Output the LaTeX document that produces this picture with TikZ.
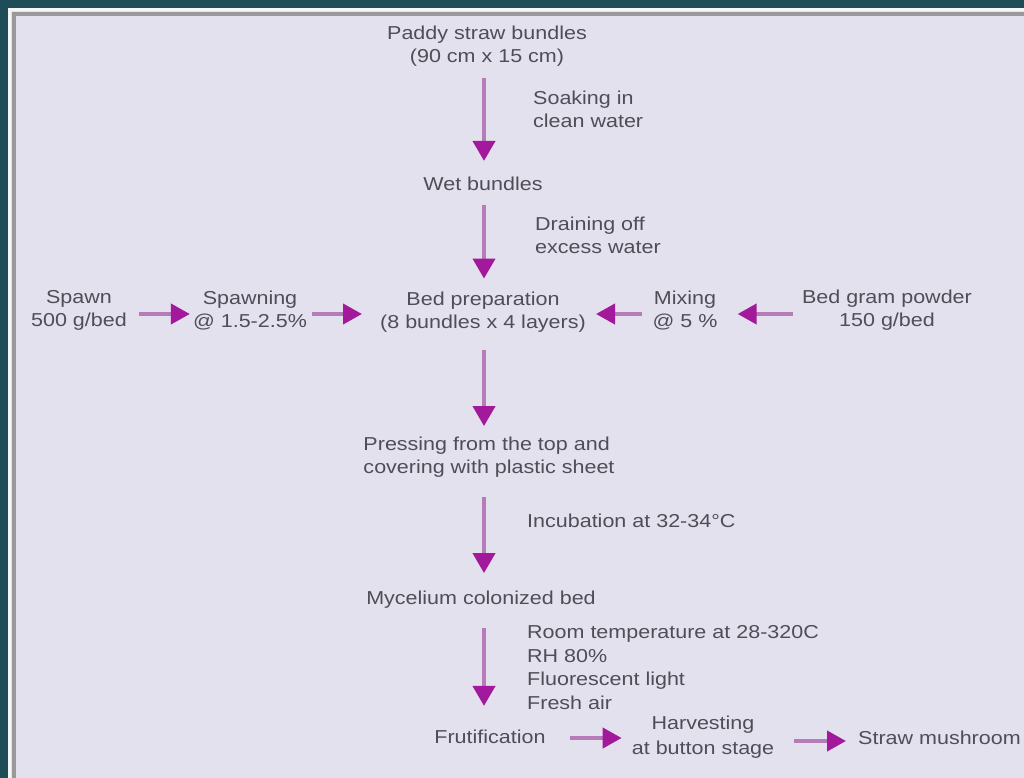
\documentclass[tikz,border=0pt]{standalone}
\usepackage{fontspec}
\setmainfont[FakeStretch=1.15]{Liberation Sans}
\usepackage{tikz}
\usetikzlibrary{arrows.meta,positioning,calc}
\definecolor{frameteal}{HTML}{1E4D57}
\definecolor{panelbg}{HTML}{E3E1EE}
\definecolor{shaftmag}{HTML}{B57CB8}
\definecolor{headmag}{HTML}{A3199B}
\definecolor{txtgray}{HTML}{4E4E56}

\tikzset{
  stage/.style={inner sep=0pt,text=txtgray,align=center,
    font=\fontsize{18.7}{23}\selectfont},
  note/.style={stage,align=left,anchor=west},
  flow/.style={draw=shaftmag,line width=4pt,
    -{Triangle[length=20pt,width=22pt,color=headmag,fill=headmag]}},
  sideflow/.style={flow,-{Triangle[length=19pt,width=20pt,color=headmag,fill=headmag]}}
}

\begin{document}
\begin{tikzpicture}[x=1pt,y=-1pt]
    % Frame and panel
    \fill[frameteal] (0,0) rectangle (1024,778);
    \useasboundingbox (0,0) rectangle (1024,778);
    \fill[white!92!gray] (8,8) rectangle (1024,778);
    \fill[panelbg] (11,11) rectangle (1024,778);
    \draw[gray!80,line width=4pt] (14,778) -- (14,14) -- (1024,14);

    % Main column
    \coordinate (axis) at (484,0);
    \coordinate (midrow) at (0,314);
    \coordinate (lowrow) at (0,738);
    \coordinate (endrow) at (0,741);
    \node[stage] (paddy) at (487,46.5) {Paddy straw bundles\\(90 cm x 15 cm)};
    \node[stage] (wet) at (483,184) {Wet bundles};
    \node[stage] (bed) at (483,312) {Bed preparation\\(8 bundles x 4 layers)};
    \node[stage,align=left] (press) at (489,457.5) {Pressing from the top and\\covering with plastic sheet};
    \node[stage] (mycel) at (481,600) {Mycelium colonized bed};
    \node[stage] (fruti) at (490,737) {Frutification};

    % Side inputs
    \node[stage] (spawn) at (79,310.5) {Spawn\\500 g/bed};
    \node[stage] (spawning) at (250,310.5) {Spawning\\@ 1.5-2.5\%};
    \node[stage] (mixing) at (685,310.5) {Mixing\\@ 5 \%};
    \node[stage] (gram) at (887,310) {Bed gram powder\\150 g/bed};

    % Harvest row
    \node[stage,font=\fontsize{18.7}{25}\selectfont] (harvest) at (703,737.5) {Harvesting\\at button stage};
    \node[stage,anchor=west] (straw) at (858,738) {Straw mushroom};

    % Step notes
    \node[note] (soak) at (533,109.5) {Soaking in\\clean water};
    \node[note] (drain) at (535,235.5) {Draining off\\excess water};
    \node[note] (incub) at (527,521) {Incubation at 32-34\textdegree C};
    \node[note,font=\fontsize{18.7}{23.7}\selectfont] (cond) at (527,667.5) {Room temperature at 28-320C\\RH 80\%\\Fluorescent light\\Fresh air};

    % Vertical flow
    \draw[flow,shorten <=11pt,shorten >=16pt] (paddy.south -| axis) -- (wet.north -| axis);
    \draw[flow,shorten <=14pt,shorten >=13pt] (wet.south -| axis) -- (bed.north -| axis);
    \draw[flow,shorten <=18pt,shorten >=11pt] (bed.south -| axis) -- (press.north -| axis);
    \draw[flow,shorten <=19pt,shorten >=18pt] (press.south -| axis) -- (mycel.north -| axis);
    \draw[flow,shorten <=19pt,shorten >=24pt] (mycel.south -| axis) -- (fruti.north -| axis);

    % Horizontal flow
    \draw[sideflow,shorten <=12pt,shorten >=3pt] (spawn.east |- midrow) -- (spawning.west |- midrow);
    \draw[sideflow,shorten <=5pt,shorten >=18pt] (spawning.east |- midrow) -- (bed.west |- midrow);
    \draw[sideflow,shorten <=10pt,shorten >=10pt] (mixing.west |- midrow) -- (bed.east |- midrow);
    \draw[sideflow,shorten <=9pt,shorten >=20pt] (gram.west |- midrow) -- (mixing.east |- midrow);
    \draw[sideflow,shorten <=24pt,shorten >=10pt] (fruti.east |- lowrow) -- (harvest.west |- lowrow);
    \draw[sideflow,shorten <=20pt,shorten >=12pt] (harvest.east |- endrow) -- (straw.west |- endrow);
\end{tikzpicture}
\end{document}
